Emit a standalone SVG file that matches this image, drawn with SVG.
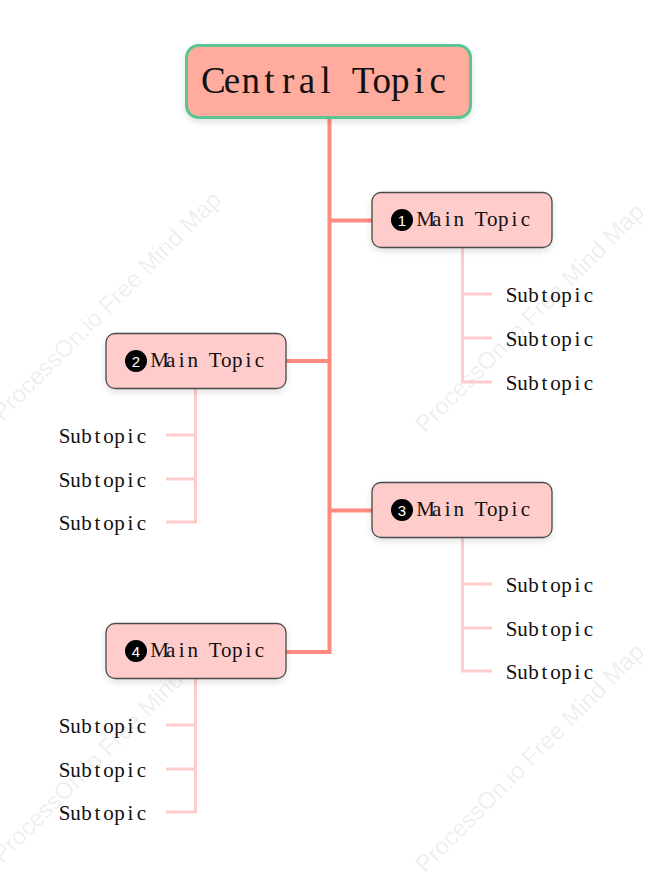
<svg xmlns="http://www.w3.org/2000/svg" width="658" height="888" viewBox="0 0 658 888">
<defs>
<filter id="sh" x="-10%" y="-20%" width="120%" height="150%">
<feDropShadow dx="0" dy="3" stdDeviation="3" flood-color="#000" flood-opacity="0.12"/>
</filter>
</defs>
<style>
.wm{font-family:"Liberation Sans",Arial,sans-serif;font-size:24px;fill:#000;fill-opacity:0.085}
.main{fill:#FFCCCC;stroke:#4a4a4a;stroke-width:1.3}
.mt,.st{font-family:"Liberation Serif","Times New Roman",serif;font-size:21px;fill:#111;text-anchor:middle}
.ct{font-family:"Liberation Serif","Times New Roman",serif;font-size:37px;fill:#111;text-anchor:middle}
.num{font-family:"Liberation Sans",Arial,sans-serif;font-size:15px;fill:#fff;text-anchor:middle}
.trunk{fill:none;stroke:#FF8A80;stroke-width:4}
.sub{fill:none;stroke:#FFCCCC;stroke-width:3}
</style>
<rect width="658" height="888" fill="#fff"/>
<g id="watermarks">
<text class="wm" transform="translate(2,422) rotate(-45)">ProcessOn.io Free Mind Map</text>
<text class="wm" transform="translate(425,434) rotate(-45)">ProcessOn.io Free Mind Map</text>
<text class="wm" transform="translate(2,864) rotate(-45)">ProcessOn.io Free Mind Map</text>
<text class="wm" transform="translate(425,874) rotate(-45)">ProcessOn.io Free Mind Map</text>
</g>
<g id="connectors">
<path class="trunk" d="M329.5 118 V652 H286 M329.5 220.5 H372 M329.5 361 H286 M329.5 510.5 H372"/>
<path class="sub" d="M462.5 248 V382 H492 M462.5 294 H492 M462.5 338 H492"/>
<path class="sub" d="M195.5 389 V522 H166 M195.5 435 H166 M195.5 479 H166"/>
<path class="sub" d="M462.5 538 V671 H492 M462.5 584 H492 M462.5 628 H492"/>
<path class="sub" d="M195.5 679 V812 H166 M195.5 725 H166 M195.5 769 H166"/>
</g>
<g id="central">
<rect x="186.5" y="45.5" width="284" height="72" rx="12" fill="#FFAB9D" stroke="#5DC58F" stroke-width="3" filter="url(#sh)"/>
<text class="ct" transform="translate(204,93)" x="9.35 28.05 46.75 65.45 84.15 102.85 121.55 140.25 158.95 177.65 196.35 215.05 233.75" y="0">Central Topic</text>
</g>
<g id="main1">
<rect class="main" x="372" y="192.5" width="180" height="55" rx="9" filter="url(#sh)"/>
<circle cx="402" cy="220" r="11" fill="#000"/>
<text class="num" x="402" y="225.5">1</text>
<text class="mt" transform="translate(420,226)" x="5.55 16.65 27.75 38.85 49.95 61.05 72.15 83.25 94.35 105.45" y="0">Main Topic</text>
</g>
<g id="main2">
<rect class="main" x="106" y="333.5" width="180" height="55" rx="9" filter="url(#sh)"/>
<circle cx="136" cy="361" r="11" fill="#000"/>
<text class="num" x="136" y="366.5">2</text>
<text class="mt" transform="translate(154,367)" x="5.55 16.65 27.75 38.85 49.95 61.05 72.15 83.25 94.35 105.45" y="0">Main Topic</text>
</g>
<g id="main3">
<rect class="main" x="372" y="482.5" width="180" height="55" rx="9" filter="url(#sh)"/>
<circle cx="402" cy="510" r="11" fill="#000"/>
<text class="num" x="402" y="515.5">3</text>
<text class="mt" transform="translate(420,516)" x="5.55 16.65 27.75 38.85 49.95 61.05 72.15 83.25 94.35 105.45" y="0">Main Topic</text>
</g>
<g id="main4">
<rect class="main" x="106" y="623.5" width="180" height="55" rx="9" filter="url(#sh)"/>
<circle cx="136" cy="651" r="11" fill="#000"/>
<text class="num" x="136" y="656.5">4</text>
<text class="mt" transform="translate(154,657)" x="5.55 16.65 27.75 38.85 49.95 61.05 72.15 83.25 94.35 105.45" y="0">Main Topic</text>
</g>
<g id="sub1">
<text class="st" transform="translate(506,302)" x="5.5 16.5 27.5 38.5 49.5 60.5 71.5 82.5" y="0">Subtopic</text>
<text class="st" transform="translate(506,346)" x="5.5 16.5 27.5 38.5 49.5 60.5 71.5 82.5" y="0">Subtopic</text>
<text class="st" transform="translate(506,390)" x="5.5 16.5 27.5 38.5 49.5 60.5 71.5 82.5" y="0">Subtopic</text>
</g>
<g id="sub2">
<text class="st" transform="translate(59,443)" x="5.5 16.5 27.5 38.5 49.5 60.5 71.5 82.5" y="0">Subtopic</text>
<text class="st" transform="translate(59,487)" x="5.5 16.5 27.5 38.5 49.5 60.5 71.5 82.5" y="0">Subtopic</text>
<text class="st" transform="translate(59,530)" x="5.5 16.5 27.5 38.5 49.5 60.5 71.5 82.5" y="0">Subtopic</text>
</g>
<g id="sub3">
<text class="st" transform="translate(506,592)" x="5.5 16.5 27.5 38.5 49.5 60.5 71.5 82.5" y="0">Subtopic</text>
<text class="st" transform="translate(506,636)" x="5.5 16.5 27.5 38.5 49.5 60.5 71.5 82.5" y="0">Subtopic</text>
<text class="st" transform="translate(506,679)" x="5.5 16.5 27.5 38.5 49.5 60.5 71.5 82.5" y="0">Subtopic</text>
</g>
<g id="sub4">
<text class="st" transform="translate(59,733)" x="5.5 16.5 27.5 38.5 49.5 60.5 71.5 82.5" y="0">Subtopic</text>
<text class="st" transform="translate(59,777)" x="5.5 16.5 27.5 38.5 49.5 60.5 71.5 82.5" y="0">Subtopic</text>
<text class="st" transform="translate(59,820)" x="5.5 16.5 27.5 38.5 49.5 60.5 71.5 82.5" y="0">Subtopic</text>
</g>
</svg>
